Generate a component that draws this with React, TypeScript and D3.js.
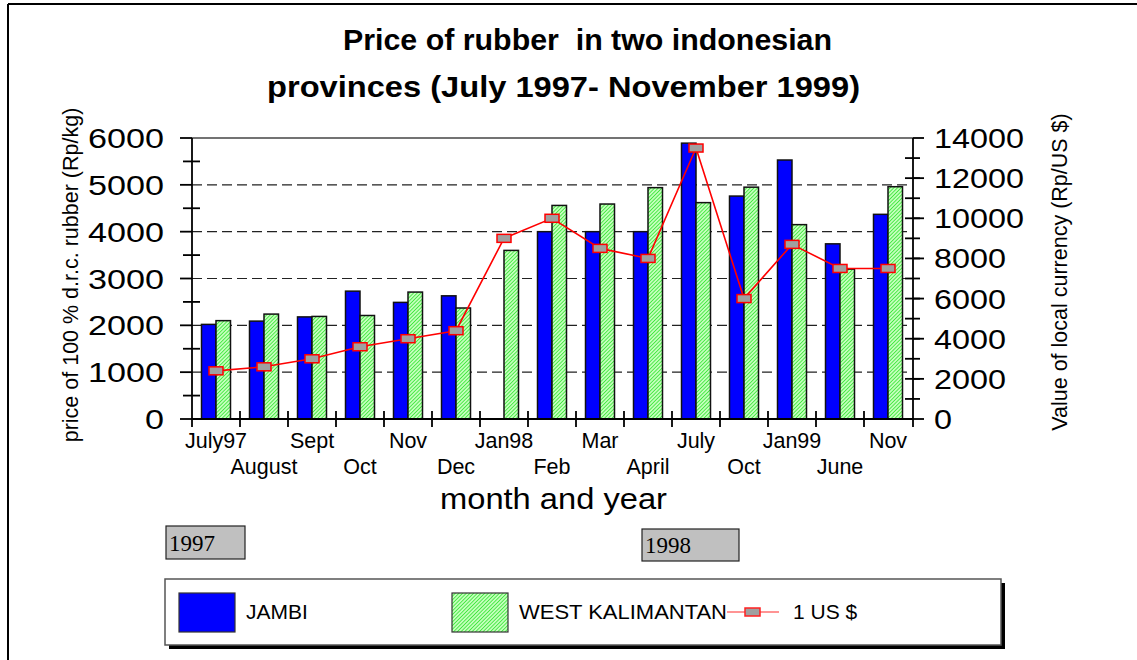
import * as d3 from "d3";
import React, { useEffect, useRef } from "react";

// months shown on the x axis (keys are unique, labels repeat)
const categories = ["Jul97", "Aug97", "Sep97", "Oct97", "Nov97", "Dec97", "Jan98", "Feb98", "Mar98", "Apr98", "Jul98", "Oct98", "Jan99", "Jun99", "Nov99"];
const monthLabels = ["July97", "August", "Sept", "Oct", "Nov", "Dec", "Jan98", "Feb", "Mar", "April", "July", "Oct", "Jan99", "June", "Nov"];

// Rp/kg
const jambi = [2020, 2090, 2180, 2730, 2490, 2630, null, 4000, 4000, 4000, 5890, 4760, 5530, 3740, 4370];
const westKalimantan = [2100, 2240, 2190, 2210, 2710, 2370, 3600, 4560, 4590, 4940, 4620, 4950, 4150, 3200, 4960];
// Rp per US $
const usd = [2400, 2600, 3000, 3600, 4000, 4400, 9000, 10000, 8500, 8000, 13500, 6000, 8700, 7500, 7500];

const leftTicks = [0, 1000, 2000, 3000, 4000, 5000, 6000];
const rightTicks = [0, 2000, 4000, 6000, 8000, 10000, 12000, 14000];

const SANS = "'Liberation Sans', Arial, sans-serif";
const SERIF = "'Liberation Serif', 'Times New Roman', serif";

export default function App() {
  const ref = useRef<SVGSVGElement>(null);

  useEffect(() => {
    const svg = d3.select(ref.current);
    svg.selectAll("*").remove();

    const left = 192, right = 912, top = 138, bottom = 419;

    const x = d3.scaleBand().domain(categories).range([left, right]);
    const bw = x.bandwidth();
    const yLeft = d3.scaleLinear().domain([0, 6000]).range([bottom, top]);
    const yRight = d3.scaleLinear().domain([0, 14000]).range([bottom, top]);

    // fine green hatch used for West Kalimantan
    const defs = svg.append("defs");
    const pat = defs.append("pattern")
      .attr("id", "hatch")
      .attr("width", 2.6)
      .attr("height", 2.6)
      .attr("patternUnits", "userSpaceOnUse")
      .attr("patternTransform", "rotate(45)");
    pat.append("rect").attr("width", 2.6).attr("height", 2.6).attr("fill", "#c4ffbc");
    pat.append("line").attr("x1", 0).attr("y1", 0).attr("x2", 0).attr("y2", 2.6)
      .attr("stroke", "#14e014").attr("stroke-width", 1.3);

    // outer frame (top and left only)
    svg.append("line").attr("x1", 8).attr("x2", 1137).attr("y1", 4).attr("y2", 4)
      .attr("stroke", "#000").attr("stroke-width", 2);
    svg.append("line").attr("x1", 8).attr("x2", 8).attr("y1", 4).attr("y2", 660)
      .attr("stroke", "#000").attr("stroke-width", 2);

    // title
    const titles = [
      { t: "Price of rubber  in two indonesian", x: 343, y: 50, w: 489 },
      { t: "provinces (July 1997- November 1999)", x: 267, y: 97, w: 593 }
    ];
    titles.forEach(d => {
      svg.append("text")
        .attr("x", d.x).attr("y", d.y)
        .attr("textLength", d.w).attr("lengthAdjust", "spacingAndGlyphs")
        .style("font-family", SANS).style("font-size", "30px").style("font-weight", "bold")
        .style("white-space", "pre")
        .text(d.t);
    });

    // dashed grid
    svg.append("g").selectAll("line")
      .data([1000, 2000, 3000, 4000, 5000])
      .join("line")
      .attr("x1", left).attr("x2", right)
      .attr("y1", d => yLeft(d)).attr("y2", d => yLeft(d))
      .attr("stroke", "#222").attr("stroke-width", 1.2).attr("stroke-dasharray", "10,5");

    // top border of plot
    svg.append("line").attr("x1", left).attr("x2", right + 1)
      .attr("y1", yLeft(6000)).attr("y2", yLeft(6000))
      .attr("stroke", "#444").attr("stroke-width", 1.5);

    // bars
    const barW = 14.5;
    svg.append("g").selectAll("rect")
      .data(categories.map((c, i) => ({ c, v: jambi[i] })).filter(d => d.v != null))
      .join("rect")
      .attr("x", d => x(d.c)! + bw / 2 - barW)
      .attr("y", d => yLeft(d.v as number))
      .attr("width", barW)
      .attr("height", d => bottom - yLeft(d.v as number))
      .attr("fill", "#0000ff").attr("stroke", "#111").attr("stroke-width", 1.5);

    svg.append("g").selectAll("rect")
      .data(categories.map((c, i) => ({ c, v: westKalimantan[i] })))
      .join("rect")
      .attr("x", d => x(d.c)! + bw / 2)
      .attr("y", d => yLeft(d.v))
      .attr("width", barW)
      .attr("height", d => bottom - yLeft(d.v))
      .attr("fill", "url(#hatch)").attr("stroke", "#111").attr("stroke-width", 1.5);

    // exchange rate line
    const pts = categories.map((c, i) => ({ c, v: usd[i] }));
    const line = d3.line<{ c: string; v: number }>()
      .x(d => x(d.c)! + bw / 2)
      .y(d => yRight(d.v));
    svg.append("path").datum(pts)
      .attr("d", line).attr("fill", "none").attr("stroke", "#ff0000").attr("stroke-width", 1.6);
    svg.append("g").selectAll("rect")
      .data(pts)
      .join("rect")
      .attr("x", d => x(d.c)! + bw / 2 - 7)
      .attr("y", d => yRight(d.v) - 4)
      .attr("width", 14).attr("height", 8)
      .attr("fill", "#a0a0a0").attr("stroke", "#ff0000").attr("stroke-width", 1.5);

    // axes lines
    const ax = svg.append("g").attr("stroke", "#000").attr("stroke-width", 1.8);
    ax.append("line").attr("x1", left).attr("x2", left).attr("y1", top).attr("y2", bottom + 8);
    ax.append("line").attr("x1", right + 1).attr("x2", right + 1).attr("y1", top).attr("y2", bottom + 8);
    ax.append("line").attr("x1", left).attr("x2", right + 1).attr("y1", bottom).attr("y2", bottom);

    // left ticks
    ax.selectAll(".lmaj").data(leftTicks).join("line").attr("class", "lmaj")
      .attr("x1", left - 12).attr("x2", left)
      .attr("y1", d => yLeft(d)).attr("y2", d => yLeft(d));
    ax.selectAll(".lmin").data(d3.range(500, 6000, 1000)).join("line").attr("class", "lmin")
      .attr("x1", left - 9).attr("x2", left + 8)
      .attr("y1", d => yLeft(d)).attr("y2", d => yLeft(d));

    // right ticks
    ax.selectAll(".rmin").data(d3.range(1000, 14000, 1000)).join("line").attr("class", "rmin")
      .attr("x1", right - 7).attr("x2", right + 8)
      .attr("y1", d => yRight(d)).attr("y2", d => yRight(d));
    ax.selectAll(".rmaj").data(rightTicks).join("line").attr("class", "rmaj")
      .attr("x1", right + 1).attr("x2", right + 12)
      .attr("y1", d => yRight(d)).attr("y2", d => yRight(d));

    // bottom ticks between months
    ax.selectAll(".bt").data(categories.slice(1)).join("line").attr("class", "bt")
      .attr("x1", d => x(d)!).attr("x2", d => x(d)!)
      .attr("y1", bottom - 8).attr("y2", bottom + 8);

    // tick labels
    svg.append("g").selectAll("text")
      .data(leftTicks).join("text")
      .attr("x", 164).attr("y", d => yLeft(d) + 10)
      .attr("text-anchor", "end")
      .attr("textLength", d => String(d).length * 19).attr("lengthAdjust", "spacingAndGlyphs")
      .style("font-family", SANS).style("font-size", "27px")
      .text(d => d);

    svg.append("g").selectAll("text")
      .data(rightTicks).join("text")
      .attr("x", 934).attr("y", d => yRight(d) + 10)
      .attr("textLength", d => String(d).length * 18).attr("lengthAdjust", "spacingAndGlyphs")
      .style("font-family", SANS).style("font-size", "28px")
      .text(d => d);

    svg.append("g").selectAll("text")
      .data(categories).join("text")
      .attr("x", d => x(d)! + bw / 2)
      .attr("y", (d, i) => (i % 2 === 0 ? 448 : 474))
      .attr("text-anchor", "middle")
      .style("font-family", SANS).style("font-size", "21.5px")
      .text((d, i) => monthLabels[i]);

    // axis titles
    svg.append("text")
      .attr("transform", "translate(78,275) rotate(-90)")
      .attr("text-anchor", "middle")
      .style("font-family", SANS).style("font-size", "21.5px")
      .text("price of 100 % d.r.c. rubber (Rp/kg)");

    svg.append("text")
      .attr("transform", "translate(1067,272) rotate(-90)")
      .attr("text-anchor", "middle")
      .style("font-family", SANS).style("font-size", "21.5px")
      .text("Value of local currency (Rp/US $)");

    svg.append("text")
      .attr("x", 440).attr("y", 509)
      .attr("textLength", 227).attr("lengthAdjust", "spacingAndGlyphs")
      .style("font-family", SANS).style("font-size", "30px")
      .text("month and year");

    // year boxes
    const years = [
      { t: "1997", x: 166, y: 526, w: 79, h: 33 },
      { t: "1998", x: 642, y: 529, w: 97, h: 32 }
    ];
    years.forEach(d => {
      svg.append("rect").attr("x", d.x).attr("y", d.y).attr("width", d.w).attr("height", d.h)
        .attr("fill", "#c0c0c0").attr("stroke", "#222").attr("stroke-width", 1.2);
      svg.append("text").attr("x", d.x + 3).attr("y", d.y + d.h - 8)
        .style("font-family", SERIF).style("font-size", "23px")
        .text(d.t);
    });

    // legend
    const lg = svg.append("g");
    lg.append("rect").attr("x", 169).attr("y", 583).attr("width", 836).attr("height", 66).attr("fill", "#000");
    lg.append("rect").attr("x", 165).attr("y", 579).attr("width", 836).attr("height", 66)
      .attr("fill", "#fff").attr("stroke", "#555").attr("stroke-width", 1.5);
    lg.append("rect").attr("x", 179).attr("y", 593).attr("width", 56).attr("height", 39)
      .attr("fill", "#0000ff").attr("stroke", "#333").attr("stroke-width", 1.2);
    lg.append("text").attr("x", 246).attr("y", 619)
      .style("font-family", SANS).style("font-size", "21px").text("JAMBI");
    lg.append("rect").attr("x", 452).attr("y", 593).attr("width", 56).attr("height", 39)
      .attr("fill", "url(#hatch)").attr("stroke", "#333").attr("stroke-width", 1.2);
    lg.append("text").attr("x", 519).attr("y", 619)
      .attr("textLength", 208).attr("lengthAdjust", "spacingAndGlyphs")
      .style("font-family", SANS).style("font-size", "21px").text("WEST KALIMANTAN");
    lg.append("line").attr("x1", 727).attr("x2", 779).attr("y1", 612).attr("y2", 612)
      .attr("stroke", "#ff7070").attr("stroke-width", 1.6);
    lg.append("rect").attr("x", 745).attr("y", 608).attr("width", 15).attr("height", 8)
      .attr("fill", "#a0a0a0").attr("stroke", "#ff2020").attr("stroke-width", 1.5);
    lg.append("text").attr("x", 793).attr("y", 619)
      .style("font-family", SANS).style("font-size", "21px").text("1 US $");
  }, []);

  return (
    <svg
      ref={ref}
      width={1137}
      height={660}
      style={{ position: "absolute", left: 0, top: 0, background: "#fff" }}
    />
  );
}
